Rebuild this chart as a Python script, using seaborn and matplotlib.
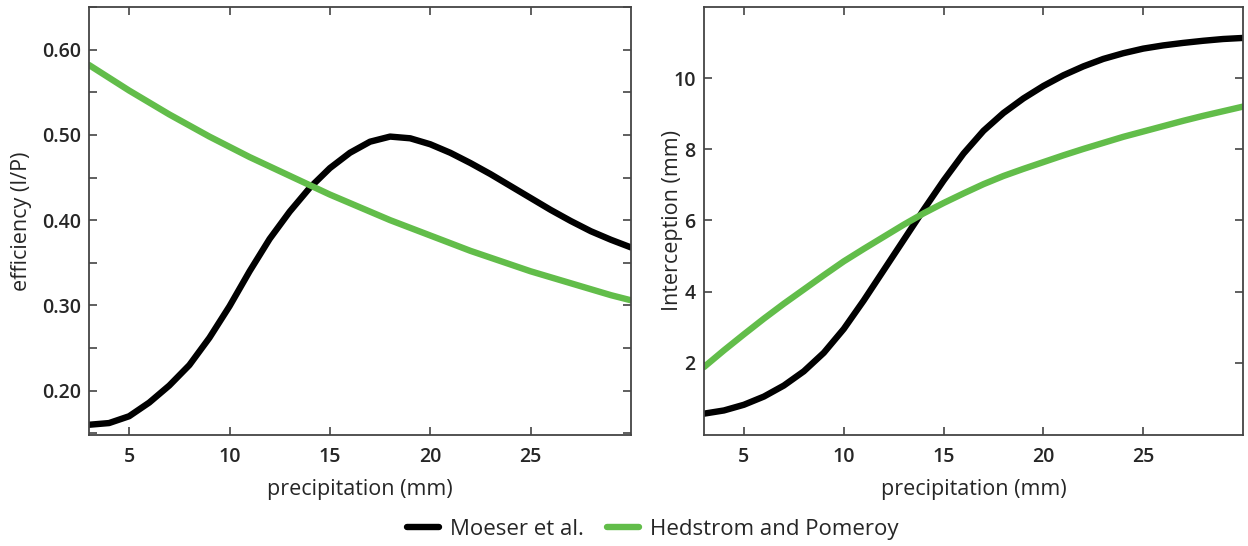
import numpy as np
import pandas as pd
import matplotlib
matplotlib.use("Agg")
import matplotlib.pyplot as plt
import seaborn as sns
from matplotlib.ticker import MultipleLocator

# Event precipitation (mm)
precip = list(range(3, 31))

# Interception efficiency (I/P)
eff_moeser = [0.160, 0.162, 0.170, 0.186, 0.206, 0.230, 0.262, 0.299, 0.340, 0.378,
              0.410, 0.438, 0.461, 0.479, 0.492, 0.498, 0.496, 0.489, 0.479, 0.467,
              0.454, 0.440, 0.426, 0.412, 0.399, 0.387, 0.377, 0.368]
eff_hedstrom = [0.582, 0.567, 0.552, 0.538, 0.524, 0.511, 0.498, 0.486, 0.474, 0.463,
                0.452, 0.441, 0.430, 0.420, 0.410, 0.400, 0.391, 0.382, 0.373, 0.364,
                0.356, 0.348, 0.340, 0.333, 0.326, 0.319, 0.312, 0.306]

# Interception (mm)
int_moeser = [0.57, 0.66, 0.82, 1.05, 1.36, 1.76, 2.28, 2.95, 3.75, 4.60,
              5.45, 6.30, 7.12, 7.88, 8.52, 9.02, 9.43, 9.78, 10.08, 10.33,
              10.54, 10.70, 10.83, 10.92, 10.99, 11.05, 11.10, 11.13]
int_hedstrom = [1.88, 2.35, 2.80, 3.24, 3.66, 4.06, 4.46, 4.85, 5.20, 5.54,
                5.88, 6.20, 6.49, 6.76, 7.02, 7.25, 7.45, 7.64, 7.83, 8.01,
                8.18, 8.35, 8.50, 8.65, 8.80, 8.94, 9.07, 9.20]

models = ["Moeser et al.", "Hedstrom and Pomeroy"]
colors = {"Moeser et al.": "#000000", "Hedstrom and Pomeroy": "#62bd4a"}


def long_frame(a, b):
    return pd.DataFrame({
        "precipitation": precip * 2,
        "value": a + b,
        "model": [models[0]] * len(precip) + [models[1]] * len(precip),
    })


eff_df = long_frame(eff_moeser, eff_hedstrom)
int_df = long_frame(int_moeser, int_hedstrom)

sns.set_theme(style="ticks")
plt.rcParams["font.family"] = ["Open Sans", "DejaVu Sans"]

fig = plt.figure(figsize=(12.48, 5.46), dpi=100)
ax1 = fig.add_axes([0.0713, 0.2033, 0.4343, 0.7839])
ax2 = fig.add_axes([0.5641, 0.2033, 0.4319, 0.7839])

lw = 4.6
for ax, df in ((ax1, eff_df), (ax2, int_df)):
    sns.lineplot(data=df, x="precipitation", y="value", hue="model",
                 palette=colors, hue_order=models, linewidth=lw, ax=ax,
                 legend=False, solid_joinstyle="round", solid_capstyle="round")

ax1.set_xlim(3, 30)
ax1.set_ylim(0.148, 0.65)
ax1.yaxis.set_minor_locator(MultipleLocator(0.05))
ax1.set_yticks([0.2, 0.3, 0.4, 0.5, 0.6])
ax1.set_yticklabels(["0.20", "0.30", "0.40", "0.50", "0.60"])
ax1.set_ylabel("efficiency (I/P)", fontsize=15.5)
ax1.yaxis.set_label_coords(-0.1046, 0.5)

ax2.set_xlim(3, 30)
ax2.set_ylim(-0.03, 12.0)
ax2.set_yticks([2, 4, 6, 8, 10])
ax2.set_ylabel("Interception (mm)", fontsize=15.5)
ax2.yaxis.set_label_coords(-0.039, 0.5)

for ax in (ax1, ax2):
    ax.set_xticks([5, 10, 15, 20, 25])
    ax.set_xlabel("precipitation (mm)", fontsize=15.5, labelpad=8)
    ax.tick_params(which="both", direction="in", top=True, right=True,
                   color="#444444", width=1.2, length=6)
    ax.tick_params(axis="x", pad=9)
    ax.tick_params(axis="y", pad=6)
    for lab in ax.get_xticklabels() + ax.get_yticklabels():
        lab.set_fontsize(14)
        lab.set_fontweight("semibold")
    for s in ax.spines.values():
        s.set_color("#444444")
        s.set_linewidth(1.3)

handles = [plt.Line2D([], [], color=colors[m], linewidth=lw) for m in models]
fig.legend(handles, models, loc="center", ncol=2, frameon=False,
           prop={"size": 16, "weight": "medium"},
           bbox_to_anchor=(0.523, 0.03), handlelength=1.45,
           handletextpad=0.5, columnspacing=1.0, borderpad=0)

fig.savefig("out.png", dpi=100)
